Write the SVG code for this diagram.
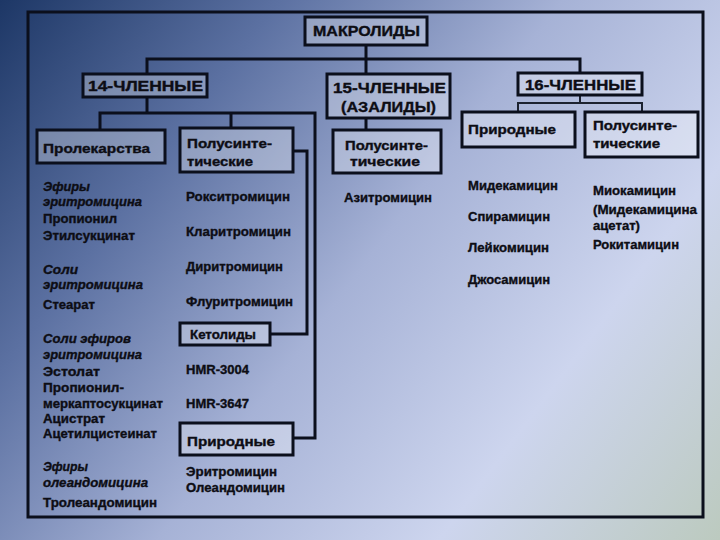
<svg xmlns="http://www.w3.org/2000/svg" width="720" height="540" viewBox="0 0 720 540">
<defs>
<linearGradient id="bg" x1="0" y1="0" x2="720" y2="540" gradientUnits="userSpaceOnUse">
<stop offset="0" stop-color="#1d3766"/>
<stop offset="0.25" stop-color="#5c71a2"/>
<stop offset="0.5" stop-color="#a6b2d6"/>
<stop offset="0.75" stop-color="#cdd5ee"/>
<stop offset="1" stop-color="#bccabf"/>
</linearGradient>
<style>
.box{fill:#ffffff;fill-opacity:0.3;stroke:#0b0f1c;stroke-width:3}
.frame{fill:none;stroke:#0b0f1c;stroke-width:3}
.ln{fill:none;stroke:#0b0f1c;stroke-width:3}
.thin{fill:none;stroke:#1c2230;stroke-width:2}
text{font-family:"Liberation Sans",Arial,sans-serif;font-weight:bold;fill:#0d0d14;stroke:#0d0d14;stroke-width:0.35;font-size:12.5px}
.h{font-size:14px}
.it{font-style:italic}
</style>
</defs>
<rect x="0" y="0" width="720" height="540" fill="url(#bg)"/>
<rect class="frame" x="28" y="12" width="675" height="505"/>

<g id="connectors">
<polyline class="ln" points="366,45 366,74"/>
<polyline class="ln" points="147,74 147,59 580,59 580,73"/>
<polyline class="ln" points="147,97 147,113"/>
<polyline class="ln" points="100,130 100,113 315,113 315,438 293,438"/>
<polyline class="ln" points="231,113 231,128"/>
<polyline class="ln" points="293,151 307,151 307,334 270,334"/>
<polyline class="ln" points="366,118 366,130"/>
<polyline class="thin" points="580,95 580,103"/>
<polyline class="thin" points="518,112 518,103 642,103 642,112"/>
</g>

<g id="n-makrolidy"><rect class="box" x="305" y="17" width="122" height="28"/><text class="h" x="313" y="36" textLength="107" lengthAdjust="spacingAndGlyphs">МАКРОЛИДЫ</text></g>
<g id="n-14"><rect class="box" x="83" y="74" width="124" height="23"/><text class="h" x="88" y="91" textLength="115" lengthAdjust="spacingAndGlyphs">14-ЧЛЕННЫЕ</text></g>
<g id="n-15"><rect class="box" x="327" y="74" width="123" height="44"/><text class="h" x="333" y="93" textLength="113" lengthAdjust="spacingAndGlyphs">15-ЧЛЕННЫЕ</text><text class="h" x="341" y="112" textLength="95" lengthAdjust="spacingAndGlyphs">(АЗАЛИДЫ)</text></g>
<g id="n-16"><rect class="box" x="518" y="73" width="124" height="22"/><text class="h" x="525" y="90" textLength="111" lengthAdjust="spacingAndGlyphs">16-ЧЛЕННЫЕ</text></g>

<g id="n-prolekarstva"><rect class="box" x="37" y="130" width="128" height="33"/><text x="43" y="153" textLength="107" lengthAdjust="spacingAndGlyphs">Пролекарства</text></g>
<g id="n-14-semi"><rect class="box" x="180" y="128" width="113" height="44"/><text x="187" y="148" textLength="85" lengthAdjust="spacingAndGlyphs">Полусинте-</text><text x="187" y="166" textLength="66" lengthAdjust="spacingAndGlyphs">тические</text></g>
<g id="n-ketolidy"><rect class="box" x="180" y="323" width="90" height="22"/><text x="190" y="339" textLength="66" lengthAdjust="spacingAndGlyphs">Кетолиды</text></g>
<g id="n-14-nat"><rect class="box" x="180" y="423" width="113" height="32"/><text x="187" y="446" textLength="88" lengthAdjust="spacingAndGlyphs">Природные</text></g>
<g id="n-15-semi"><rect class="box" x="333" y="130" width="108" height="43"/><text x="345" y="150" textLength="83" lengthAdjust="spacingAndGlyphs">Полусинте-</text><text x="350" y="166" textLength="70" lengthAdjust="spacingAndGlyphs">тические</text></g>
<g id="n-16-nat"><rect class="box" x="462" y="112" width="113" height="35"/><text x="468" y="134" textLength="88" lengthAdjust="spacingAndGlyphs">Природные</text></g>
<g id="n-16-semi"><rect class="box" x="585" y="112" width="113" height="45"/><text x="593" y="130" textLength="84" lengthAdjust="spacingAndGlyphs">Полусинте-</text><text x="593" y="148" textLength="67" lengthAdjust="spacingAndGlyphs">тические</text></g>

<g id="list-prolekarstva">
<text class="it" x="43" y="191" textLength="47" lengthAdjust="spacingAndGlyphs">Эфиры</text>
<text class="it" x="43" y="206" textLength="99" lengthAdjust="spacingAndGlyphs">эритромицина</text>
<text x="43" y="223" textLength="74" lengthAdjust="spacingAndGlyphs">Пропионил</text>
<text x="43" y="240" textLength="92" lengthAdjust="spacingAndGlyphs">Этилсукцинат</text>
<text class="it" x="43" y="274" textLength="35" lengthAdjust="spacingAndGlyphs">Соли</text>
<text class="it" x="43" y="289" textLength="100" lengthAdjust="spacingAndGlyphs">эритромицина</text>
<text x="43" y="309" textLength="52" lengthAdjust="spacingAndGlyphs">Стеарат</text>
<text class="it" x="43" y="343" textLength="88" lengthAdjust="spacingAndGlyphs">Соли эфиров</text>
<text class="it" x="43" y="359" textLength="99" lengthAdjust="spacingAndGlyphs">эритромицина</text>
<text x="43" y="376" textLength="57" lengthAdjust="spacingAndGlyphs">Эстолат</text>
<text x="43" y="392" textLength="81" lengthAdjust="spacingAndGlyphs">Пропионил-</text>
<text x="43" y="408" textLength="120" lengthAdjust="spacingAndGlyphs">меркаптосукцинат</text>
<text x="43" y="423" textLength="62" lengthAdjust="spacingAndGlyphs">Ацистрат</text>
<text x="43" y="438" textLength="114" lengthAdjust="spacingAndGlyphs">Ацетилцистеинат</text>
<text class="it" x="43" y="471" textLength="45" lengthAdjust="spacingAndGlyphs">Эфиры</text>
<text class="it" x="43" y="487" textLength="105" lengthAdjust="spacingAndGlyphs">олеандомицина</text>
<text x="43" y="507" textLength="114" lengthAdjust="spacingAndGlyphs">Тролеандомицин</text>
</g>
<g id="list-14-semi">
<text x="186" y="201" textLength="104" lengthAdjust="spacingAndGlyphs">Рокситромицин</text>
<text x="186" y="236" textLength="105" lengthAdjust="spacingAndGlyphs">Кларитромицин</text>
<text x="186" y="271" textLength="97" lengthAdjust="spacingAndGlyphs">Диритромицин</text>
<text x="186" y="306" textLength="107" lengthAdjust="spacingAndGlyphs">Флуритромицин</text>
</g>
<g id="list-ketolidy">
<text x="186" y="374" textLength="63" lengthAdjust="spacingAndGlyphs">HMR-3004</text>
<text x="186" y="408" textLength="63" lengthAdjust="spacingAndGlyphs">HMR-3647</text>
</g>
<g id="list-14-nat">
<text x="186" y="476" textLength="91" lengthAdjust="spacingAndGlyphs">Эритромицин</text>
<text x="186" y="492" textLength="99" lengthAdjust="spacingAndGlyphs">Олеандомицин</text>
</g>
<g id="list-15">
<text x="344" y="202" textLength="88" lengthAdjust="spacingAndGlyphs">Азитромицин</text>
</g>
<g id="list-16-nat">
<text x="468" y="190" textLength="90" lengthAdjust="spacingAndGlyphs">Мидекамицин</text>
<text x="468" y="221" textLength="82" lengthAdjust="spacingAndGlyphs">Спирамицин</text>
<text x="468" y="252" textLength="81" lengthAdjust="spacingAndGlyphs">Лейкомицин</text>
<text x="468" y="284" textLength="82" lengthAdjust="spacingAndGlyphs">Джосамицин</text>
</g>
<g id="list-16-semi">
<text x="593" y="195" textLength="83" lengthAdjust="spacingAndGlyphs">Миокамицин</text>
<text x="593" y="214" textLength="104" lengthAdjust="spacingAndGlyphs">(Мидекамицина</text>
<text x="593" y="230" textLength="47" lengthAdjust="spacingAndGlyphs">ацетат)</text>
<text x="593" y="249" textLength="86" lengthAdjust="spacingAndGlyphs">Рокитамицин</text>
</g>
</svg>
